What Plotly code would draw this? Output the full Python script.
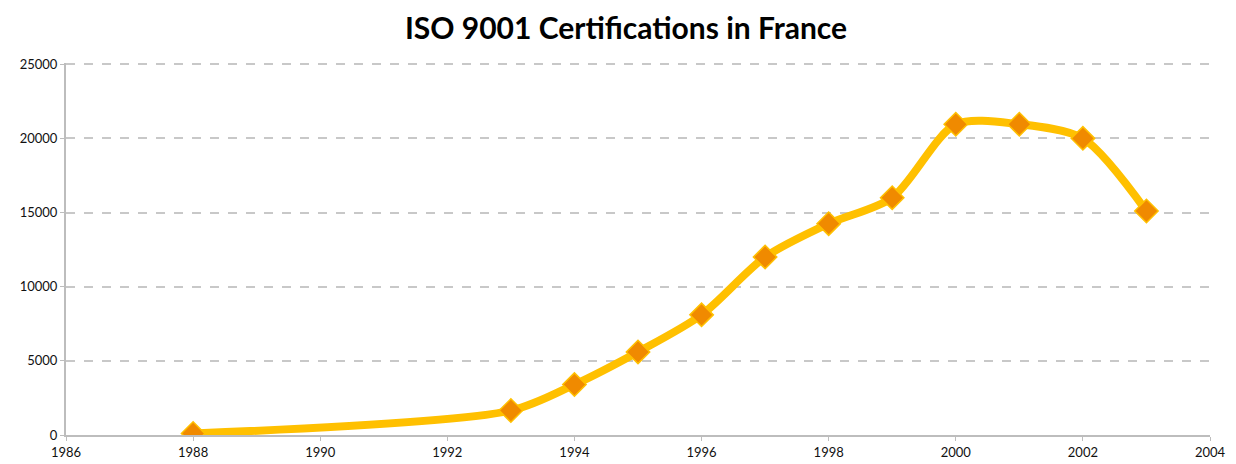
import plotly.graph_objects as go

years = [1988, 1993, 1994, 1995, 1996, 1997, 1998, 1999, 2000, 2001, 2002, 2003]
certs = [100, 1650, 3400, 5600, 8100, 12000, 14250, 16000, 20950, 20950, 20000, 15100]
x_ticks = [1986, 1988, 1990, 1992, 1994, 1996, 1998, 2000, 2002, 2004]
y_ticks = [0, 5000, 10000, 15000, 20000, 25000]
y_labels = ["0", "5000", "10000", "15000", "20000", "25000"]

fig = go.Figure()
fig.add_trace(go.Scatter(
    x=years, y=certs, mode="lines+markers",
    line=dict(color="#FFC000", width=8, shape="spline", smoothing=0.8),
    marker=dict(symbol="diamond", size=18, color="#F08A00",
                line=dict(color="#FFC000", width=1.5)),
    showlegend=False,
))

fig.update_layout(
    width=1236, height=464,
    margin=dict(l=56, r=34, t=55, b=37),
    paper_bgcolor="white", plot_bgcolor="white",
    title=dict(text="<b>ISO 9001 Certifications in France</b>", x=0.5, xanchor="center",
               y=0.955, yanchor="middle",
               font=dict(family="Lato", size=30, color="black", weight=900)),
    font=dict(family="Lato", size=13, color="#111111"),
)
fig.update_xaxes(range=[1986, 2004], tickvals=x_ticks, showgrid=False,
                 showline=True, linecolor="#BDBDBD", linewidth=2,
                 ticks="outside", ticklen=4, tickcolor="#BDBDBD", zeroline=False)
fig.update_yaxes(range=[0, 25080], tickvals=y_ticks, ticktext=y_labels, showgrid=True,
                 gridcolor="#C8C8C8", griddash="dash", gridwidth=1.5,
                 showline=True, linecolor="#BDBDBD", linewidth=2,
                 ticks="outside", ticklen=4, tickcolor="#BDBDBD", zeroline=False)

fig.write_html("out.html")
